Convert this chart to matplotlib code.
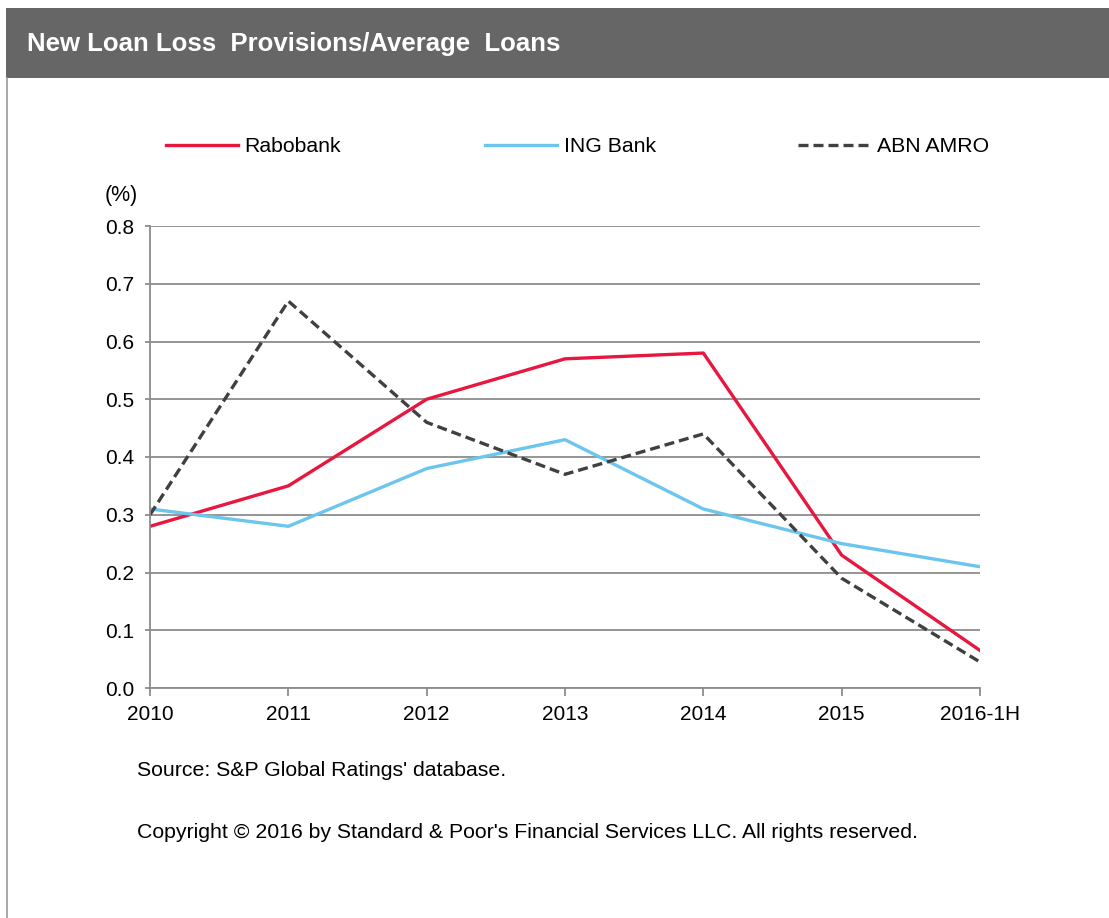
import matplotlib
matplotlib.use("Agg")
import matplotlib.pyplot as plt
from matplotlib.lines import Line2D
from matplotlib.patches import Rectangle

plt.rcParams["font.family"] = ["Liberation Sans", "DejaVu Sans"]

periods = ["2010", "2011", "2012", "2013", "2014", "2015", "2016-1H"]
rabobank = [0.28, 0.35, 0.50, 0.57, 0.58, 0.23, 0.065]
ing_bank = [0.31, 0.28, 0.38, 0.43, 0.31, 0.25, 0.21]
abn_amro = [0.30, 0.67, 0.46, 0.37, 0.44, 0.19, 0.045]

red = "#E8173F"
cyan = "#6CC5EC"
dark = "#404040"
grid_col = "#8C8C8C"

fig = plt.figure(figsize=(11.09, 9.18), dpi=100)
W, H = 1109, 918

# title bar and frame
fig.patches.append(Rectangle((6 / W, 1 - 78 / H), 1 - 6 / W, 70 / H,
                             transform=fig.transFigure, facecolor="#666666",
                             edgecolor="none"))
fig.add_artist(Line2D([6.5 / W, 6.5 / W], [0, 1 - 78 / H], color="#999999",
                      lw=1.2, transform=fig.transFigure))
fig.text(27 / W, 1 - 44 / H, "New Loan Loss  Provisions/Average  Loans",
         color="white", fontsize=18.5, fontweight="bold", va="center", ha="left")

ax = fig.add_axes([150 / W, 1 - 688 / H, 830 / W, 462 / H])
x = list(range(len(periods)))
l1, = ax.plot(x, rabobank, color=red, lw=2.4)
l2, = ax.plot(x, ing_bank, color=cyan, lw=2.4)
l3, = ax.plot(x, abn_amro, color=dark, lw=2.4, ls=(0, (3.0, 1.5)))

ax.set_xlim(0, len(periods) - 1)
ax.set_ylim(0, 0.8)
ax.set_yticks([i / 10 for i in range(9)])
ax.set_yticklabels([f"{i / 10:.1f}" for i in range(9)])
ax.set_xticks(x)
ax.set_xticklabels(periods)
ax.yaxis.grid(True, color=grid_col, lw=1.3)
ax.set_axisbelow(True)
for s in ["top", "right"]:
    ax.spines[s].set_visible(False)
for s in ["left", "bottom"]:
    ax.spines[s].set_color(grid_col)
    ax.spines[s].set_linewidth(1.3)
ax.tick_params(axis="both", colors=grid_col, labelcolor="black", labelsize=15,
               width=1.3)
ax.tick_params(axis="x", length=6, pad=6)
ax.tick_params(axis="y", length=3.5, pad=8)

fig.text(105 / W, 1 - 196 / H, "(%)", fontsize=15.5, va="center", ha="left")

# legend, one entry at a time to keep the wide spacing
entries = [(l1, "Rabobank", 166), (l2, "ING Bank", 485), (l3, "ABN AMRO", 798)]
for handle, label, xpos in entries:
    leg = fig.legend([handle], [label], loc="center left",
                     bbox_to_anchor=(xpos / W, 1 - 147 / H), frameon=False,
                     fontsize=15.3, handlelength=3.4, handletextpad=0.3,
                     borderpad=0, borderaxespad=0)

fig.text(137 / W, 1 - 770 / H, "Source: S&P Global Ratings' database.",
         fontsize=15.3, va="center", ha="left")
fig.text(137 / W, 1 - 832 / H,
         "Copyright \u00a9 2016 by Standard & Poor's Financial Services LLC. All rights reserved.",
         fontsize=15.3, va="center", ha="left")

fig.savefig("out.png", dpi=100, facecolor="white")
